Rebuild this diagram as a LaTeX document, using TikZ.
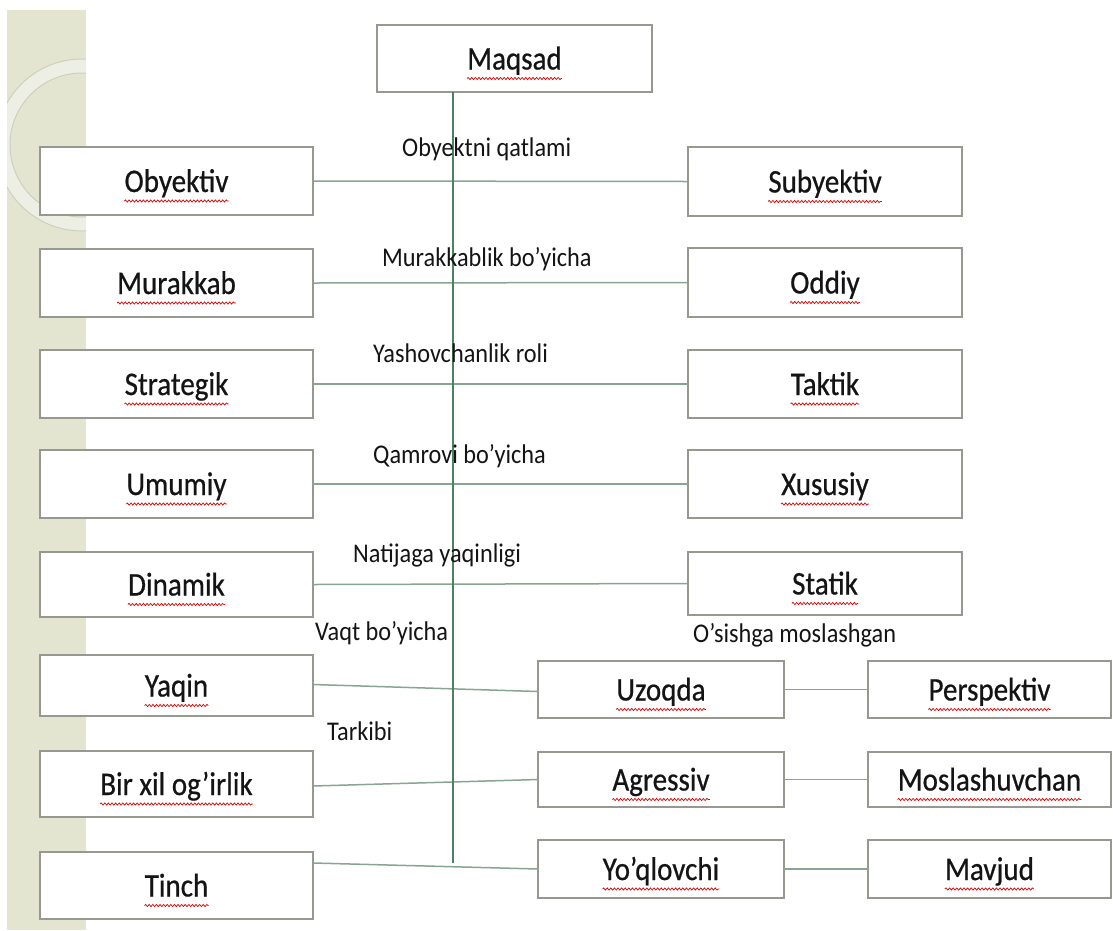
\documentclass[tikz,border=0pt]{standalone}
\usepackage{fontspec}
\setmainfont{Carlito}[FakeStretch=0.9]
\newfontfamily\boxfont{Carlito}[FakeStretch=0.88, FakeBold=0.6]
\usetikzlibrary{decorations.pathmorphing}
\definecolor{stripe}{HTML}{E3E5D0}
\definecolor{ringfill}{HTML}{EEEFE4}
\definecolor{ringedge}{HTML}{CDD0BB}
\definecolor{boxline}{HTML}{979890}
\definecolor{connc}{HTML}{86A690}
\definecolor{vlinec}{HTML}{4F8060}
\definecolor{txt}{HTML}{141414}
\tikzset{
  bx/.style={draw=boxline, line width=2.8pt, fill=white, inner sep=0pt, outer sep=0pt},
  bt/.style={font=\boxfont\fontsize{33}{38}\selectfont, text=txt, inner sep=0pt, anchor=base},
  lbl/.style={font=\fontsize{27}{32}\selectfont, text=txt, inner sep=0pt, anchor=base west},
  wavy/.style={draw=red!85!black, line width=0.7pt, decorate, decoration={snake, amplitude=1.1pt, segment length=3.6pt}},
  conn/.style={draw=connc, line width=1.5pt},
  vline/.style={draw=vlinec, line width=1.1pt}
}
\newcommand{\mybox}[6]{%
  \node[bx, minimum width={(#4-#2)*1pt}, minimum height={(#5-#3)*1pt}] (#1) at ({(#2+#4)/2},{(#3+#5)/2}) {};
  \node[bt] (#1-t) at ([yshift=-11pt]#1.center) {#6};
  \draw[wavy] ([yshift=-9pt]#1-t.base west) -- ([yshift=-9pt]#1-t.base east);
}
\begin{document}
\begin{tikzpicture}[x=1pt,y=-1pt]
\useasboundingbox (0,0) rectangle (1113,930);
\fill[white] (0,0) rectangle (1113,930);
\fill[stripe] (7,10) rectangle (86,930);
\begin{scope}
  \clip (7,10) rectangle (86,930);
  \fill[ringfill, even odd rule] (82,145) circle[radius=86] (82,145) circle[radius=72];
  \draw[ringedge, line width=1pt] (82,145) circle[radius=86];
  \draw[ringedge, line width=1pt] (82,145) circle[radius=72];
\end{scope}

\coordinate (vtop) at (453,92);
\coordinate (vend) at (453,863);

\mybox{maq}{377}{25}{652}{92}{Maqsad}
\mybox{obj}{40}{147}{313}{215}{Obyektiv}
\mybox{sub}{688}{147}{962}{216}{Subyektiv}
\mybox{mur}{40}{249}{313}{317}{Murakkab}
\mybox{odd}{688}{248}{962}{317}{Oddiy}
\mybox{str}{40}{350}{313}{418}{Strategik}
\mybox{tak}{688}{350}{962}{418}{Taktik}
\mybox{umu}{40}{450}{313}{518}{Umumiy}
\mybox{xus}{688}{450}{962}{518}{Xususiy}
\mybox{din}{40}{552}{313}{617}{Dinamik}
\mybox{sta}{688}{552}{962}{615}{Statik}
\mybox{yaq}{40}{655}{313}{716}{Yaqin}
\mybox{bir}{40}{751}{313}{817}{Bir xil og’irlik}
\mybox{tin}{40}{852}{313}{919}{Tinch}
\mybox{uzo}{538}{661}{784}{718}{Uzoqda}
\mybox{per}{868}{661}{1111}{718}{Perspektiv}
\mybox{agr}{538}{752}{784}{807}{Agressiv}
\mybox{mos}{868}{752}{1111}{807}{Moslashuvchan}
\mybox{yoq}{538}{840}{784}{898}{Yo’qlovchi}
\mybox{mav}{868}{840}{1111}{898}{Mavjud}

\draw[conn] (obj.east) -- (sub.west);
\draw[conn] (mur.east) -- (odd.west);
\draw[conn] (str.east) -- (tak.west);
\draw[conn] (umu.east) -- (xus.west);
\draw[conn] (din.east) -- (sta.west);
\draw[conn] ([yshift=1pt]yaq.east) -- ([yshift=-2pt]uzo.west);
\draw[conn] ([yshift=-2pt]bir.east) -- (agr.west);
\draw[conn] ([yshift=22.5pt]tin.east) -- (yoq.west);
\draw[conn] (uzo.east) -- (per.west);
\draw[conn] (agr.east) -- (mos.west);
\draw[conn] (yoq.east) -- (mav.west);
\draw[vline] (vtop) -- (vend);

\node[lbl] (l1) at (402,156) {Obyektni qatlami};
\node[lbl] (l2) at (382,266) {Murakkablik bo’yicha};
\node[lbl] (l3) at (373,362) {Yashovchanlik roli};
\node[lbl] (l4) at (373,463) {Qamrovi bo’yicha};
\node[lbl] (l5) at (353,562) {Natijaga yaqinligi};
\node[lbl] (l6) at (315,640) {Vaqt bo’yicha};
\node[lbl] (l7) at (693,642) {O’sishga moslashgan};
\node[lbl] (l8) at (327,740) {Tarkibi};
\end{tikzpicture}
\end{document}
